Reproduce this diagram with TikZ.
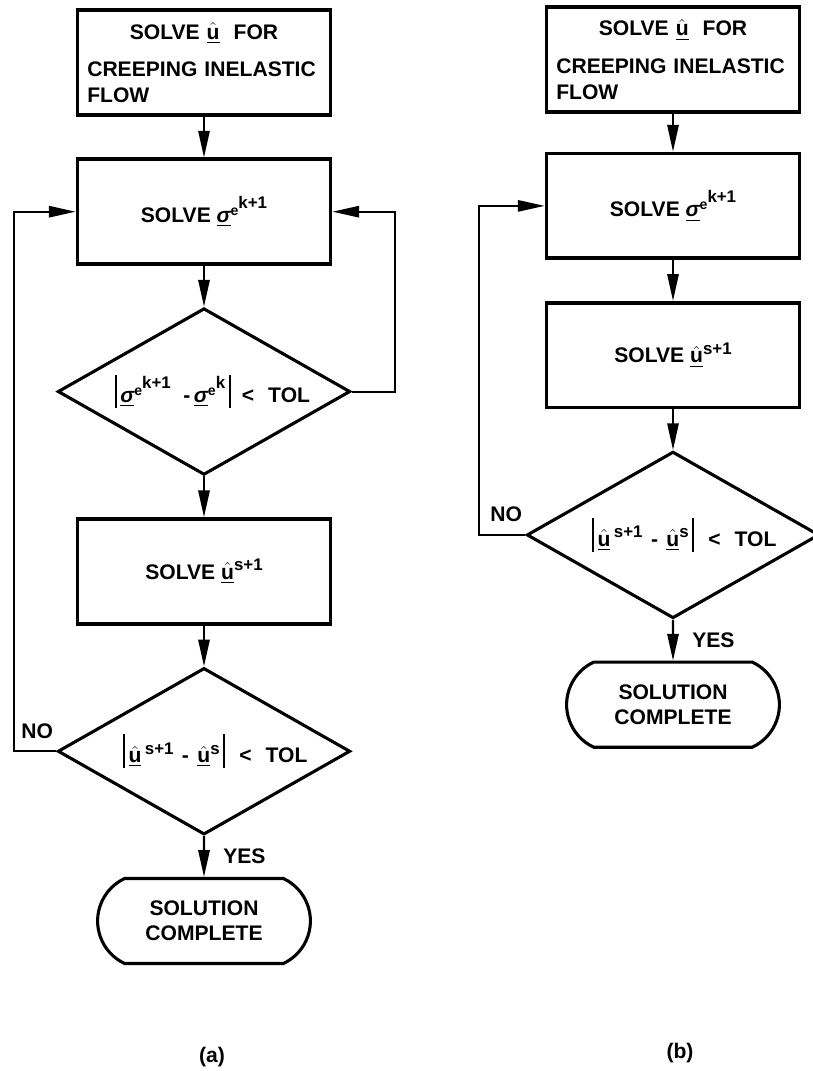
\documentclass[tikz,border=0pt]{standalone}
\usepackage{amsmath}
\usepackage{fontspec}
\setmainfont{Liberation Sans}
\usetikzlibrary{positioning,arrows.meta,shapes.geometric,shapes.misc}
\tikzset{
  proc/.style     = {draw, line width=2.6pt, minimum width=180pt, minimum height=74.5pt, inner sep=4pt, align=center},
  decision/.style = {draw, diamond, line width=2.2pt, minimum width=208pt, minimum height=118.5pt, inner sep=0pt, aspect=1.75},
  term/.style     = {draw, rounded rectangle, rounded rectangle arc length=130, line width=2.2pt, minimum width=158pt, minimum height=60.5pt, align=center},
  lbl/.style      = {inner sep=1pt},
  flow/.style     = {-{Triangle[length=19pt,width=8pt]}, line width=1.5pt},
}
\newcommand{\hi}[3]{\raisebox{#1}{\fontsize{#2}{#2}\selectfont #3}}
\newcommand{\sgm}{\underline{\itshape σ}}
\newcommand{\uhat}{$\underline{\hat{\text{u}}}$}
\newcommand{\absbar}{\rule[-4pt]{1.4pt}{24pt}}

\begin{document}
\begin{tikzpicture}[x=0.025cm, y=-0.025cm, node distance=29pt, font=\fontsize{15}{18}\selectfont\bfseries]
  \clip (0,0) rectangle (813,1071);
  % (a)
  \node[proc, text width=166pt, align=left] (a1) at (204,62.5)
    {\makebox[\linewidth]{SOLVE \uhat\ \ FOR}\\[9pt] CREEPING INELASTIC\\ FLOW};
  \node[proc, below=of a1] (a2) {SOLVE \sgm\hi{5pt}{10}{e}\hi{10pt}{12}{k+1}};
  \node[decision, below=of a2] (d1)
    {\makebox[0pt]{\hspace{12pt}\absbar\,\sgm\hi{5pt}{10}{e}\hi{10pt}{12}{k+1}\hspace{9pt}-\,\sgm\hi{5pt}{10}{e}\hi{10pt}{12}{k}\,\absbar\hspace{8pt}<\hspace{10pt}TOL}};
  \node[proc, below=of d1] (a3) {SOLVE \uhat\hi{6pt}{12}{s+1}};
  \node[decision, below=of a3] (d2)
    {\makebox[0pt]{\hspace{16pt}\absbar\,\uhat\,\hi{6pt}{12}{s+1}\hspace{6pt}-\hspace{6pt}\uhat\hi{6pt}{12}{s}\,\absbar\hspace{10pt}<\hspace{10pt}TOL}};
  \node[term, below=of d2] (t1) {SOLUTION\\COMPLETE};
  \node[lbl, above left=8pt and 1pt of d2.west] (noa) {NO};
  \draw[flow] (a1) -- (a2);
  \draw[flow] (a2) -- (d1);
  \draw[flow] (d1) -- (a3);
  \draw[flow] (a3) -- (d2);
  \draw[flow] (d2) -- node[lbl, right=12pt] (yesa) {YES} (t1);
  \draw[flow] (d1.east) -- ++(31pt,0) |- (a2.east);
  \draw[flow] (d2.west) -- ++(-30pt,0) |- (a2.west);
  \node (capa) at (212,1057) {(a)};
  % (b)
  \node[proc, text width=166pt, align=left] (b1) at (673,59.5)
    {\makebox[\linewidth]{SOLVE \uhat\ \ FOR}\\[9pt] CREEPING INELASTIC\\ FLOW};
  \node[proc, below=27pt of b1] (b2) {SOLVE \sgm\hi{5pt}{10}{e}\hi{10pt}{12}{k+1}};
  \node[proc, below=of b2] (b3) {SOLVE \uhat\hi{6pt}{12}{s+1}};
  \node[decision, below=of b3] (db)
    {\makebox[0pt]{\hspace{16pt}\absbar\,\uhat\,\hi{6pt}{12}{s+1}\hspace{6pt}-\hspace{6pt}\uhat\hi{6pt}{12}{s}\,\absbar\hspace{10pt}<\hspace{10pt}TOL}};
  \node[term, below=of db] (tb) {SOLUTION\\COMPLETE};
  \node[lbl, above left=8pt and 1pt of db.west] (nob) {NO};
  \draw[flow] (b1) -- (b2);
  \draw[flow] (b2) -- (b3);
  \draw[flow] (b3) -- (db);
  \draw[flow] (db) -- node[lbl, right=12pt] (yesb) {YES} (tb);
  \draw[flow] (db.west) -- ++(-33pt,0) |- (b2.west);
  \node (capb) at (680,1053) {(b)};
\end{tikzpicture}
\end{document}
